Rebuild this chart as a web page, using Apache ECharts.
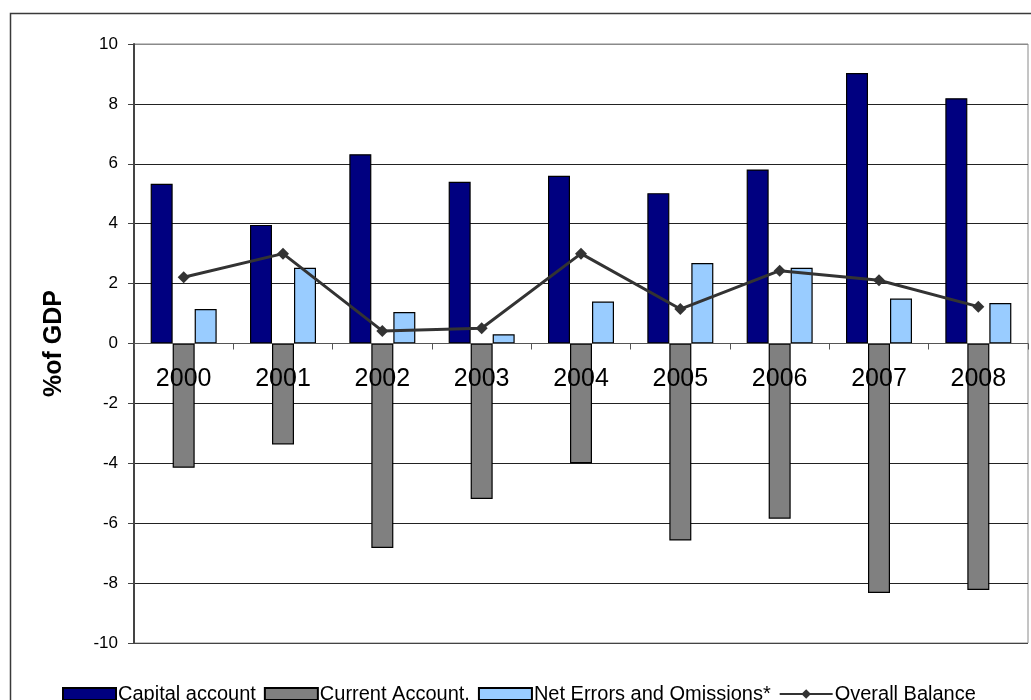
<!DOCTYPE html>
<html>
<head>
<meta charset="utf-8">
<title>Balance of Payments, % of GDP</title>
<script src="https://cdn.jsdelivr.net/npm/echarts@6/dist/echarts.min.js"></script>
<style>
  html, body { margin: 0; padding: 0; background: #fff; }
  #chart { width: 1031px; height: 700px; }
</style>
</head>
<body>
<div id="chart"></div>
<script>
// Years on the category axis
const years = ['2000', '2001', '2002', '2003', '2004', '2005', '2006', '2007', '2008'];

// Components of the balance of payments, % of GDP
const capitalAccount = [5.33, 3.96, 6.32, 5.40, 5.60, 5.02, 5.81, 9.03, 8.19];
const currentAccount = [-4.15, -3.37, -6.83, -5.19, -4.00, -6.58, -5.85, -8.33, -8.23];
const netErrors = [1.15, 2.53, 1.05, 0.31, 1.40, 2.69, 2.53, 1.50, 1.35];
const overallBalance = [2.21, 3.00, 0.42, 0.51, 3.00, 1.15, 2.43, 2.11, 1.23];

// Value axis range
const yMin = -10;
const yMax = 10;
const yStep = 2;

const FONT = '"Liberation Sans", Arial, sans-serif';

// Plot area margins
const W = 1031, H = 700;
const gridBox = { left: 134, right: 3, top: 44, bottom: 57 };
const plotHeight = H - gridBox.top - gridBox.bottom;
// Lift the category axis (line, ticks and year labels) up to the zero line
const zeroOffset = -plotHeight * (0 - yMin) / (yMax - yMin);

const chart = echarts.init(document.getElementById('chart'), null, { renderer: 'canvas' });

const barStyle = (color) => ({ color: color, borderColor: '#000', borderWidth: 1.2 });

chart.setOption({
  animation: false,
  backgroundColor: '#fff',
  textStyle: { fontFamily: FONT, color: '#000' },
  graphic: [{
    type: 'rect',
    shape: { x: 10.5, y: 13.5, width: 1040, height: 720 },
    style: { fill: 'none', stroke: '#3a3a3a', lineWidth: 1.5 },
    silent: true,
    z: -1
  }],
  grid: Object.assign({ show: true, borderColor: '#8a8a8a', borderWidth: 1 }, gridBox),
  legend: {
    left: 57, top: 679,
    itemWidth: 53, itemHeight: 12, itemGap: 8,
    textStyle: { fontFamily: FONT, fontSize: 20, color: '#000', padding: [0, 0, 0, -3] },
    data: [
      { name: 'Capital account', icon: 'rect' },
      { name: 'Current Account.', icon: 'rect' },
      { name: 'Net Errors and Omissions*', icon: 'rect' },
      { name: 'Overall Balance' }
    ]
  },
  xAxis: {
    type: 'category',
    data: years,
    position: 'bottom',
    offset: zeroOffset,
    z: 10,
    axisLine: { onZero: false, lineStyle: { color: '#555', width: 1 } },
    axisTick: { show: true, alignWithLabel: false, length: 6, lineStyle: { color: '#555' } },
    axisLabel: { fontFamily: FONT, fontSize: 25, color: '#000', margin: 23 },
    splitLine: { show: false }
  },
  yAxis: {
    type: 'value',
    min: yMin, max: yMax, interval: yStep,
    name: '%of GDP',
    nameLocation: 'middle',
    nameRotate: 90,
    nameGap: 67,
    nameTextStyle: { fontFamily: FONT, fontSize: 25, fontWeight: 'bold', color: '#000' },
    axisLine: { show: true, lineStyle: { color: '#444', width: 2 } },
    axisTick: { show: true, length: 6, lineStyle: { color: '#444' } },
    axisLabel: { fontFamily: FONT, fontSize: 17, color: '#000', margin: 16 },
    splitLine: {
      show: true,
      lineStyle: {
        color: ['#444', '#222', '#222', '#222', '#222', '#444', '#222', '#222', '#222', '#222', '#8a8a8a'],
        width: 1
      }
    }
  },
  series: [
    {
      name: 'Capital account', type: 'bar', data: capitalAccount,
      barWidth: 22, barGap: '0%',
      itemStyle: barStyle('#000080')
    },
    {
      name: 'Current Account.', type: 'bar', data: currentAccount,
      barWidth: 22, barGap: '0%',
      itemStyle: barStyle('#808080')
    },
    {
      name: 'Net Errors and Omissions*', type: 'bar', data: netErrors,
      barWidth: 22, barGap: '0%',
      itemStyle: barStyle('#99CCFF')
    },
    {
      name: 'Overall Balance', type: 'line', data: overallBalance,
      symbol: 'diamond', symbolSize: 12,
      lineStyle: { color: '#333', width: 3 },
      itemStyle: { color: '#333' },
      z: 5
    }
  ]
});
</script>
</body>
</html>
